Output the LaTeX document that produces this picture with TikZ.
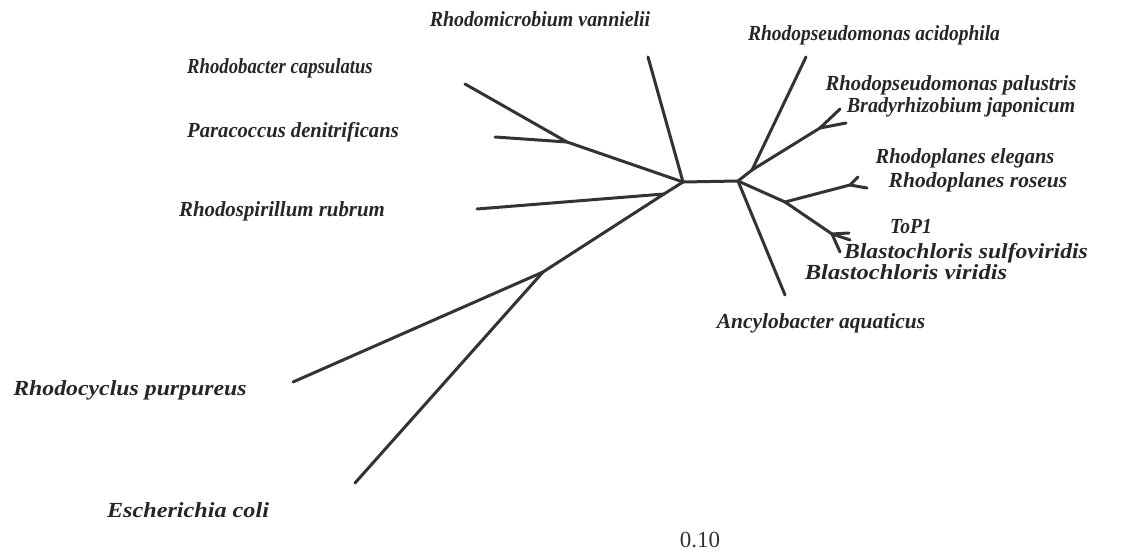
\documentclass[tikz,border=0pt]{standalone}
\usepackage{fontspec}
\setmainfont{Liberation Serif}
\newcommand\sx[2]{\scalebox{#1}[1]{#2}}
\begin{document}
\begin{tikzpicture}[x=1pt,y=-1pt,
  br/.style={line width=3pt,draw=black!80,line cap=round,line join=round},
  lab/.style={font=\fontsize{21.5}{24}\selectfont\bfseries\itshape,text=black!85,inner sep=0pt}]
\useasboundingbox (0,0) rectangle (1131,556);
% internal nodes
\coordinate (L) at (683,182);
\coordinate (R) at (738,181);
\coordinate (Nrc) at (567,142);
\coordinate (Nrs) at (664,194);
\coordinate (Nec) at (543,272);
\coordinate (Nac) at (752,170);
\coordinate (Npb) at (820,128);
\coordinate (Nbl) at (785,202);
\coordinate (Nre) at (850,185);
\coordinate (Nbv) at (832,234);
% tips
\coordinate (Trm) at (648,57);
\coordinate (Trb) at (465,84);
\coordinate (Tpd) at (495,137);
\coordinate (Trr) at (477,209);
\coordinate (Trp) at (293,382);
\coordinate (Tec) at (355,483);
\coordinate (Tra) at (806,57);
\coordinate (Tpa) at (840,109);
\coordinate (Tbj) at (846,123);
\coordinate (Tre) at (858,177);
\coordinate (Tro) at (867,188);
\coordinate (Ttp) at (849,233);
\coordinate (Tbs) at (850,240);
\coordinate (Tbv) at (840,252);
\coordinate (Taa) at (785,295);
% branches
\draw[br] (L) -- (R);
\draw[br] (L) -- (Trm);
\draw[br] (L) -- (Nrc) -- (Trb);
\draw[br] (Nrc) -- (Tpd);
\draw[br] (L) -- (Nrs) -- (Nec) -- (Trp);
\draw[br] (Nrs) -- (Trr);
\draw[br] (Nec) -- (Tec);
\draw[br] (R) -- (Nac) -- (Tra);
\draw[br] (Nac) -- (Npb) -- (Tpa);
\draw[br] (Npb) -- (Tbj);
\draw[br] (R) -- (Nbl) -- (Nre) -- (Tre);
\draw[br] (Nre) -- (Tro);
\draw[br] (Nbl) -- (Nbv) -- (Ttp);
\draw[br] (Nbv) -- (Tbs);
\draw[br] (Nbv) -- (Tbv);
\draw[br] (R) -- (Taa);
% labels
\node[lab] (lrm) at (540,19) {\sx{0.925}{Rhodomicrobium vannielii}};
\node[lab] (lra) at (874,35) {\sx{0.907}{Rhodopseudomonas acidophila}};
\node[lab] (lrb) at (280,68) {\sx{0.87}{Rhodobacter capsulatus}};
\node[lab] (lpa) at (951,85) {\sx{0.96}{Rhodopseudomonas palustris}};
\node[lab] (lbj) at (961,107) {\sx{0.935}{Bradyrhizobium japonicum}};
\node[lab] (lpd) at (293,132) {\sx{0.96}{Paracoccus denitrificans}};
\node[lab] (lre) at (965,158) {\sx{0.95}{Rhodoplanes elegans}};
\node[lab] (lro) at (978,182) {\sx{1.0}{Rhodoplanes roseus}};
\node[lab] (lrr) at (282,211) {\sx{0.97}{Rhodospirillum rubrum}};
\node[lab] (ltp) at (911,227) {\sx{0.907}{ToP1}};
\node[lab] (lbs) at (966,253) {\sx{1.1}{Blastochloris sulfoviridis}};
\node[lab] (lbv) at (906,272) {\sx{1.14}{Blastochloris viridis}};
\node[lab] (laa) at (821,323) {\sx{1.0}{Ancylobacter aquaticus}};
\node[lab] (lrp) at (130,390) {\sx{1.107}{Rhodocyclus purpureus}};
\node[lab] (lec) at (188,510) {\sx{1.125}{Escherichia coli}};
\node[font=\fontsize{23}{26}\selectfont,text=black!80,inner sep=0pt] (scale) at (700,540) {0.10};
\end{tikzpicture}
\end{document}
